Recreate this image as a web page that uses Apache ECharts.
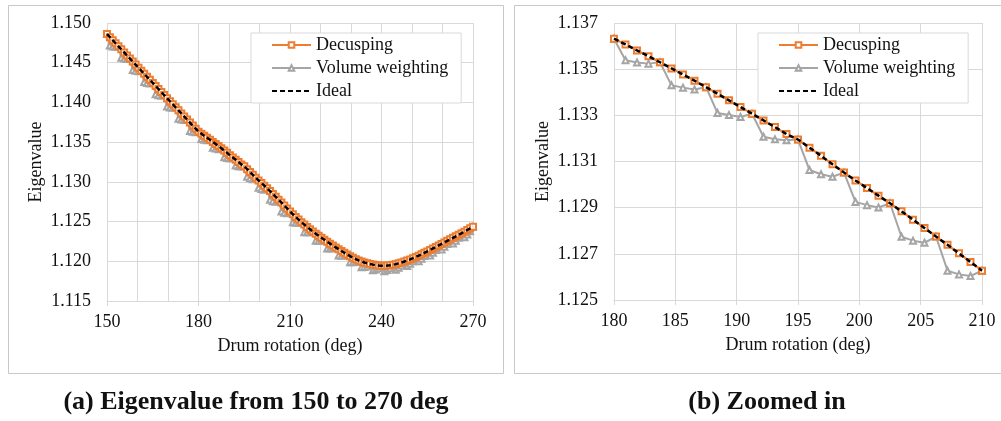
<!DOCTYPE html>
<html><head><meta charset="utf-8">
<script src="https://cdn.jsdelivr.net/npm/echarts@6/dist/echarts.min.js"></script>
<style>html,body{margin:0;padding:0;background:#fff}#c{width:1001px;height:421px}</style>
</head><body><div id="c"></div>
<script>
// Drum rotation (deg), sampled every 0.9375 deg from 150 to 270
const rotation = [
150, 150.9375, 151.875, 152.8125, 153.75, 154.6875, 155.625, 156.5625, 157.5, 158.4375, 159.375, 160.3125, 161.25, 162.1875, 163.125, 164.0625,
165, 165.9375, 166.875, 167.8125, 168.75, 169.6875, 170.625, 171.5625, 172.5, 173.4375, 174.375, 175.3125, 176.25, 177.1875, 178.125, 179.0625,
180, 180.9375, 181.875, 182.8125, 183.75, 184.6875, 185.625, 186.5625, 187.5, 188.4375, 189.375, 190.3125, 191.25, 192.1875, 193.125, 194.0625,
195, 195.9375, 196.875, 197.8125, 198.75, 199.6875, 200.625, 201.5625, 202.5, 203.4375, 204.375, 205.3125, 206.25, 207.1875, 208.125, 209.0625,
210, 210.9375, 211.875, 212.8125, 213.75, 214.6875, 215.625, 216.5625, 217.5, 218.4375, 219.375, 220.3125, 221.25, 222.1875, 223.125, 224.0625,
225, 225.9375, 226.875, 227.8125, 228.75, 229.6875, 230.625, 231.5625, 232.5, 233.4375, 234.375, 235.3125, 236.25, 237.1875, 238.125, 239.0625,
240, 240.9375, 241.875, 242.8125, 243.75, 244.6875, 245.625, 246.5625, 247.5, 248.4375, 249.375, 250.3125, 251.25, 252.1875, 253.125, 254.0625,
255, 255.9375, 256.875, 257.8125, 258.75, 259.6875, 260.625, 261.5625, 262.5, 263.4375, 264.375, 265.3125, 266.25, 267.1875, 268.125, 269.0625,
270
];
const decusping = [
1.14860, 1.14822, 1.14783, 1.14745, 1.14706, 1.14668, 1.14630, 1.14591, 1.14553, 1.14514, 1.14476, 1.14438, 1.14399, 1.14361, 1.14322, 1.14284,
1.14246, 1.14207, 1.14169, 1.14130, 1.14092, 1.14054, 1.14015, 1.13977, 1.13938, 1.13900, 1.13862, 1.13823, 1.13785, 1.13746, 1.13708, 1.13670,
1.13632, 1.13607, 1.13581, 1.13556, 1.13530, 1.13503, 1.13477, 1.13450, 1.13422, 1.13394, 1.13365, 1.13336, 1.13307, 1.13278, 1.13249, 1.13219,
1.13195, 1.13160, 1.13125, 1.13088, 1.13052, 1.13018, 1.12985, 1.12952, 1.12919, 1.12884, 1.12848, 1.12812, 1.12775, 1.12739, 1.12702, 1.12665,
1.12627, 1.12592, 1.12558, 1.12525, 1.12493, 1.12462, 1.12432, 1.12403, 1.12375, 1.12348, 1.12322, 1.12296, 1.12271, 1.12246, 1.12222, 1.12198,
1.12175, 1.12152, 1.12130, 1.12107, 1.12085, 1.12064, 1.12045, 1.12027, 1.12011, 1.11997, 1.11985, 1.11975, 1.11966, 1.11958, 1.11952, 1.11948,
1.11945, 1.11944, 1.11946, 1.11950, 1.11956, 1.11964, 1.11974, 1.11985, 1.11997, 1.12010, 1.12024, 1.12039, 1.12055, 1.12071, 1.12088, 1.12106,
1.12124, 1.12143, 1.12162, 1.12181, 1.12200, 1.12219, 1.12238, 1.12257, 1.12276, 1.12295, 1.12314, 1.12333, 1.12353, 1.12373, 1.12394, 1.12415,
1.12436
];
const volumeWeighting = [
1.14860, 1.14717, 1.14705, 1.14700, 1.14706, 1.14563, 1.14552, 1.14546, 1.14553, 1.14409, 1.14398, 1.14393, 1.14399, 1.14256, 1.14244, 1.14239,
1.14246, 1.14102, 1.14091, 1.14085, 1.14092, 1.13949, 1.13937, 1.13932, 1.13938, 1.13795, 1.13784, 1.13778, 1.13785, 1.13641, 1.13630, 1.13625,
1.13632, 1.13539, 1.13529, 1.13524, 1.13530, 1.13430, 1.13420, 1.13412, 1.13422, 1.13310, 1.13301, 1.13293, 1.13307, 1.13207, 1.13196, 1.13192,
1.13195, 1.13063, 1.13045, 1.13034, 1.13052, 1.12925, 1.12911, 1.12901, 1.12919, 1.12774, 1.12757, 1.12748, 1.12775, 1.12627, 1.12611, 1.12604,
1.12627, 1.12492, 1.12486, 1.12485, 1.12493, 1.12367, 1.12364, 1.12365, 1.12375, 1.12258, 1.12257, 1.12260, 1.12271, 1.12161, 1.12160, 1.12163,
1.12175, 1.12072, 1.12070, 1.12072, 1.12085, 1.11989, 1.11987, 1.11991, 1.12011, 1.11925, 1.11929, 1.11939, 1.11966, 1.11888, 1.11897, 1.11912,
1.11945, 1.11874, 1.11891, 1.11913, 1.11956, 1.11894, 1.11918, 1.11947, 1.11997, 1.11940, 1.11968, 1.12001, 1.12055, 1.12001, 1.12032, 1.12068,
1.12124, 1.12073, 1.12106, 1.12143, 1.12200, 1.12149, 1.12182, 1.12219, 1.12276, 1.12225, 1.12258, 1.12295, 1.12353, 1.12303, 1.12338, 1.12377,
1.12436
];
const ideal = decusping.slice();
// zoomed panel covers 180..210 deg (indices 32..64)
const zoomFrom = 32, zoomTo = 65;

const seriesNames = ['Decusping', 'Volume weighting', 'Ideal'];
const leftXTicks = [150, 180, 210, 240, 270];
const leftYTicks = [1.115, 1.120, 1.125, 1.130, 1.135, 1.140, 1.145, 1.150];
const rightXTicks = [180, 185, 190, 195, 200, 205, 210];
const rightYTicks = [1.125, 1.127, 1.129, 1.131, 1.133, 1.135, 1.137];
const xTitle = 'Drum rotation (deg)';
const yTitle = 'Eigenvalue';
const captions = ['(a) Eigenvalue from 150 to 270 deg', '(b) Zoomed in'];

const FONT = 'Liberation Serif';
const GRID = '#d9d9d9';
const chart = echarts.init(document.getElementById('c'), null, {renderer: 'canvas'});

function pairs(xs, ys) { return xs.map((x, i) => [x, ys[i]]); }

function xAxisOf(ticks, gi, minor) {
  return {
    type: 'value', gridIndex: gi,
    min: ticks[0], max: ticks[ticks.length - 1], interval: ticks[1] - ticks[0],
    name: xTitle, nameLocation: 'middle', nameGap: 36,
    nameTextStyle: {fontFamily: FONT, fontSize: 18, color: '#111'},
    axisLine: {show: true, lineStyle: {color: GRID, width: 1}},
    axisTick: {show: true, length: 5, lineStyle: {color: GRID}},
    axisLabel: {fontFamily: FONT, fontSize: 18, color: '#111', margin: 12},
    splitLine: {show: true, lineStyle: {color: GRID, width: 1}},
    minorTick: {show: false, splitNumber: minor},
    minorSplitLine: {show: minor > 1, lineStyle: {color: GRID, width: 1}}
  };
}
function yAxisOf(ticks, gi) {
  return {
    type: 'value', gridIndex: gi,
    min: ticks[0], max: ticks[ticks.length - 1],
    interval: +(ticks[1] - ticks[0]).toFixed(6),
    name: yTitle, nameLocation: 'middle', nameGap: 62,
    nameTextStyle: {fontFamily: FONT, fontSize: 18, color: '#111'},
    axisLine: {show: false}, axisTick: {show: false},
    axisLabel: {fontFamily: FONT, fontSize: 18, color: '#111', margin: 16,
      formatter: v => v.toFixed(3)},
    splitLine: {show: true, lineStyle: {color: GRID, width: 1}}
  };
}
function seriesFor(gi, xs, dec, vol, idl) {
  return [
    {name: 'Volume weighting', type: 'line', xAxisIndex: gi, yAxisIndex: gi,
     data: pairs(xs, vol), symbol: 'emptyTriangle', symbolSize: 6, z: 2,
     lineStyle: {color: '#a5a5a5', width: 2},
     itemStyle: {color: '#a5a5a5', borderColor: '#a5a5a5', borderWidth: 1}},
    {name: 'Decusping', type: 'line', xAxisIndex: gi, yAxisIndex: gi,
     data: pairs(xs, dec), symbol: 'emptyRect', symbolSize: 6, z: 3,
     lineStyle: {color: '#ed7d31', width: 2},
     itemStyle: {color: '#ed7d31', borderColor: '#ed7d31', borderWidth: 1}},
    {name: 'Ideal', type: 'line', xAxisIndex: gi, yAxisIndex: gi,
     data: pairs(xs, idl), symbol: 'none', z: 4,
     lineStyle: {color: '#000', width: 2.5, type: [5, 3]},
     itemStyle: {color: '#000'}}
  ];
}
function legendAt(left) {
  return {
    data: [
      {name: seriesNames[0]},
      {name: seriesNames[1]},
      {name: seriesNames[2], itemStyle: {opacity: 0, color: 'rgba(0,0,0,0)', borderColor: 'rgba(0,0,0,0)'}}
    ],
    orient: 'vertical', left: left, top: 33,
    padding: [3, 13, 3, 20], itemGap: 5, itemWidth: 39, itemHeight: 7,
    backgroundColor: '#fff', borderColor: GRID, borderWidth: 1, borderRadius: 0,
    textStyle: {fontFamily: FONT, fontSize: 18, color: '#111', lineHeight: 18},
    selectedMode: false
  };
}

const option = {
  animation: false,
  backgroundColor: '#fff',
  grid: [
    {left: 107, top: 23, width: 366, height: 278},
    {left: 614, top: 23, width: 368, height: 277}
  ],
  xAxis: [xAxisOf(leftXTicks, 0, 3), xAxisOf(rightXTicks, 1, 1)],
  yAxis: [yAxisOf(leftYTicks, 0), yAxisOf(rightYTicks, 1)],
  legend: [legendAt(251), legendAt(758)],
  series: [
    ...seriesFor(0, rotation, decusping, volumeWeighting, ideal),
    ...seriesFor(1, rotation.slice(zoomFrom, zoomTo), decusping.slice(zoomFrom, zoomTo),
      volumeWeighting.slice(zoomFrom, zoomTo), ideal.slice(zoomFrom, zoomTo))
  ],
  graphic: [
    {type: 'rect', shape: {x: 8.5, y: 5.5, width: 495, height: 368}, silent: true, z: -1,
     style: {fill: null, stroke: '#c8c8c8', lineWidth: 1}},
    {type: 'rect', shape: {x: 514.5, y: 5.5, width: 520, height: 368}, silent: true, z: -1,
     style: {fill: null, stroke: '#c8c8c8', lineWidth: 1}},
    {type: 'text', x: 256, y: 402, silent: true,
     style: {text: captions[0], x: 0, y: 0, align: 'center', verticalAlign: 'middle',
       font: 'bold 26px "Liberation Serif"', fill: '#111'}},
    {type: 'text', x: 767, y: 402, silent: true,
     style: {text: captions[1], x: 0, y: 0, align: 'center', verticalAlign: 'middle',
       font: 'bold 26px "Liberation Serif"', fill: '#111'}}
  ]
};
chart.setOption(option);
</script>
</body></html>
